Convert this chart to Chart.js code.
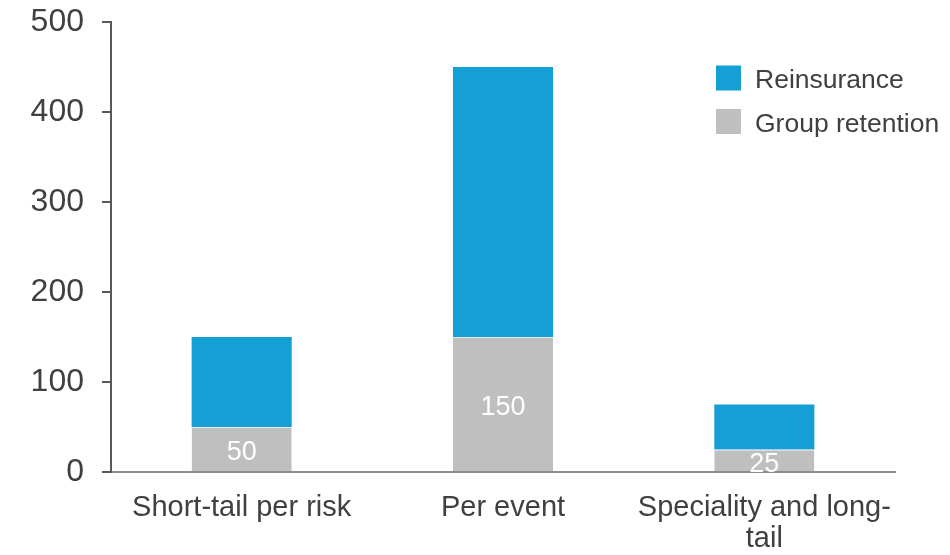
<!DOCTYPE html>
<html>
<head>
<meta charset="utf-8">
<script src="https://cdn.jsdelivr.net/npm/chart.js@4/dist/chart.umd.min.js"></script>
<style>
  html, body { margin: 0; padding: 0; background: #fff; overflow: hidden; }
</style>
</head>
<body>
<canvas id="reChart" width="950" height="555"></canvas>
<script>
const categories = ["Short-tail per risk", "Per event", ["Speciality and long-", "tail"]];
const groupRetention = [50, 150, 25];
const reinsurance = [100, 300, 50];
const yTicks = [0, 100, 200, 300, 400, 500];

const blue = "#14A0D4";
const grey = "#BFBFBF";
const textColor = "#404040";
const fontFamily = "'Liberation Sans', Arial, sans-serif";

// white numbers inside the grey bars
const barLabels = {
  id: "barLabels",
  afterDatasetsDraw(chart) {
    const ctx = chart.ctx;
    const meta = chart.getDatasetMeta(0);
    ctx.save();
    ctx.fillStyle = "#fff";
    ctx.font = "27px " + fontFamily;
    ctx.textAlign = "center";
    ctx.textBaseline = "middle";
    meta.data.forEach((bar, i) => {
      const mid = (bar.y + bar.base) / 2;
      ctx.fillText(chart.data.datasets[0].data[i], bar.x, mid + 4);
    });
    ctx.restore();
  },
};

// legend drawn inside the plot, top right, reinsurance first
const sideLegend = {
  id: "sideLegend",
  afterDraw(chart) {
    const ctx = chart.ctx;
    const items = [chart.data.datasets[1], chart.data.datasets[0]];
    ctx.save();
    ctx.font = "26.5px " + fontFamily;
    ctx.textBaseline = "middle";
    items.forEach((ds, i) => {
      const y = 78 + i * 43.5;
      ctx.fillStyle = ds.backgroundColor;
      ctx.fillRect(716, y - 12.5, 25, 25);
      ctx.fillStyle = textColor;
      ctx.fillText(ds.label, 755, y + 3);
    });
    ctx.restore();
  },
};

new Chart(document.getElementById("reChart").getContext("2d"), {
  type: "bar",
  data: {
    labels: categories,
    datasets: [
      {
        label: "Group retention",
        data: groupRetention,
        backgroundColor: grey,
        borderColor: "#e8e8e8",
        borderWidth: { top: 1, left: 0, right: 0, bottom: 0 },
        borderSkipped: false,
        categoryPercentage: 0.766,
        barPercentage: 0.5,
      },
      {
        label: "Reinsurance",
        data: reinsurance,
        backgroundColor: blue,
        borderWidth: 0,
        categoryPercentage: 0.766,
        barPercentage: 0.5,
      },
    ],
  },
  options: {
    responsive: false,
    animation: false,
    devicePixelRatio: 1,
    layout: { padding: { top: 22, right: 55, left: 0, bottom: 0 } },
    plugins: {
      legend: { display: false },
      tooltip: { enabled: false },
    },
    scales: {
      x: {
        stacked: true,
        border: { color: "#8c8c8c", width: 2 },
        grid: { display: false, drawTicks: false },
        ticks: {
          color: textColor,
          font: { family: fontFamily, size: 29, lineHeight: 1.07 },
          padding: 20,
          maxRotation: 0,
          autoSkip: false,
        },
        afterFit(scale) {
          scale.height = 83;
          scale.paddingLeft = 0;
          scale.paddingRight = 0;
        },
      },
      y: {
        stacked: true,
        min: 0,
        max: 500,
        afterBuildTicks(scale) { scale.ticks = yTicks.map((v) => ({ value: v })); },
        border: { color: "#595959", width: 2 },
        grid: { drawOnChartArea: false, color: "#595959", lineWidth: 2, tickLength: 9 },
        ticks: {
          color: textColor,
          font: { family: fontFamily, size: 32 },
          padding: 18,
        },
        afterFit(scale) {
          scale.width = 111;
          scale.paddingTop = 0;
          scale.paddingBottom = 0;
        },
      },
    },
  },
  plugins: [barLabels, sideLegend],
});
</script>
</body>
</html>
